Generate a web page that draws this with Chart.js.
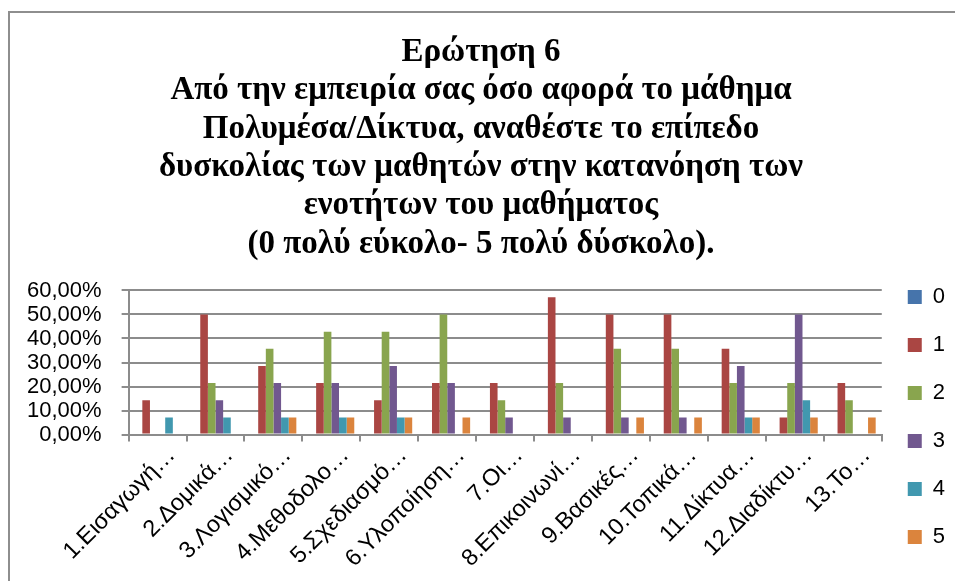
<!DOCTYPE html>
<html>
<head>
<meta charset="utf-8">
<script src="https://cdn.jsdelivr.net/npm/chart.js@4/dist/chart.umd.min.js"></script>
<style>
    body { margin: 0; background: #fff; }
    #wrap { position: relative; width: 955px; height: 581px; overflow: hidden; }
    #frame {
        position: absolute; left: 8px; top: 11px; width: 980px; height: 620px;
        border: 2px solid #8e8e8e; pointer-events: none;
    }
</style>
</head>
<body>
<div id="wrap">
    <canvas id="chart" width="955" height="581"></canvas>
    <div id="frame"></div>
</div>
<script>
const categories = [
    '1.Εισαγωγή…', '2.Δομικά…', '3.Λογισμικό…', '4.Μεθοδολο…', '5.Σχεδιασμό…',
    '6.Υλοποίηση…', '7.Οι…', '8.Επικοινωνί…', '9.Βασικές…', '10.Τοπικά…',
    '11.Δίκτυα…', '12.Διαδίκτυ…', '13.Το…'
];

// percentage of answers for each difficulty level (0..5)
const level0 = [0, 0, 0, 0, 0, 0, 0, 0, 0, 0, 0, 0, 0];
const level1 = [14.29, 50, 28.57, 21.43, 14.29, 21.43, 21.43, 57.14, 50, 50, 35.71, 7.14, 21.43];
const level2 = [0, 21.43, 35.71, 42.86, 42.86, 50, 14.29, 21.43, 35.71, 35.71, 21.43, 21.43, 14.29];
const level3 = [0, 14.29, 21.43, 21.43, 28.57, 21.43, 7.14, 7.14, 7.14, 7.14, 28.57, 50, 0];
const level4 = [7.14, 7.14, 7.14, 7.14, 7.14, 0, 0, 0, 0, 0, 7.14, 14.29, 0];
const level5 = [0, 0, 7.14, 7.14, 7.14, 7.14, 0, 0, 7.14, 7.14, 7.14, 7.14, 7.14];

const seriesNames = ['0', '1', '2', '3', '4', '5'];
const seriesColors = ['#4674ab', '#aa4643', '#89a54e', '#71588f', '#4198af', '#db843d'];
const seriesData = [level0, level1, level2, level3, level4, level5];

const titleLines = [
    'Ερώτηση 6',
    'Από την εμπειρία σας όσο αφορά το μάθημα',
    'Πολυμέσα/Δίκτυα, αναθέστε το επίπεδο',
    'δυσκολίας των μαθητών στην κατανόηση των',
    'ενοτήτων του μαθήματος',
    '(0 πολύ εύκολο- 5 πολύ δύσκολο).'
];

const gridColor = '#8c8c8c';
const ctx = document.getElementById('chart').getContext('2d');

const chart = new Chart(ctx, {
    type: 'bar',
    data: {
        labels: categories,
        datasets: seriesNames.map((name, i) => ({
            label: name,
            data: seriesData[i],
            backgroundColor: seriesColors[i],
            borderWidth: 0,
            barPercentage: 1,
            categoryPercentage: 0.79
        }))
    },
    options: {
        responsive: false,
        animation: false,
        layout: { padding: { left: 7, right: 0, top: 0, bottom: 7 } },
        plugins: {
            title: {
                display: true,
                text: titleLines,
                color: '#000',
                font: { family: 'Liberation Serif', weight: 'bold', size: 33, lineHeight: 1.164 },
                padding: { top: 33, bottom: 27 }
            },
            legend: {
                position: 'right',
                align: 'end',
                labels: {
                    color: '#000',
                    boxWidth: 14,
                    boxHeight: 14,
                    padding: 26,
                    font: { family: 'Liberation Sans', size: 22 }
                }
            },
            tooltip: { enabled: false }
        },
        scales: {
            x: {
                // leave room below the rotated labels
                afterFit: (scale) => { scale.height += 1; },
                grid: {
                    offset: true,
                    drawOnChartArea: false,
                    drawTicks: true,
                    tickLength: 7,
                    color: gridColor,
                    lineWidth: 2
                },
                border: { color: gridColor, width: 2 },
                ticks: {
                    color: '#000',
                    autoSkip: false,
                    minRotation: 45,
                    maxRotation: 45,
                    padding: 0,
                    labelOffset: 14,
                    font: { family: 'Liberation Sans', size: 23.5 }
                }
            },
            y: {
                min: 0,
                max: 60,
                grid: { color: gridColor, lineWidth: 2, tickLength: 7 },
                border: { color: gridColor, width: 2 },
                ticks: {
                    stepSize: 10,
                    autoSkip: false,
                    color: '#000',
                    padding: 20,
                    font: { family: 'Liberation Sans', size: 22 },
                    callback: (v) => v.toFixed(2).replace('.', ',') + '%'
                }
            }
        }
    }
});
</script>
</body>
</html>
